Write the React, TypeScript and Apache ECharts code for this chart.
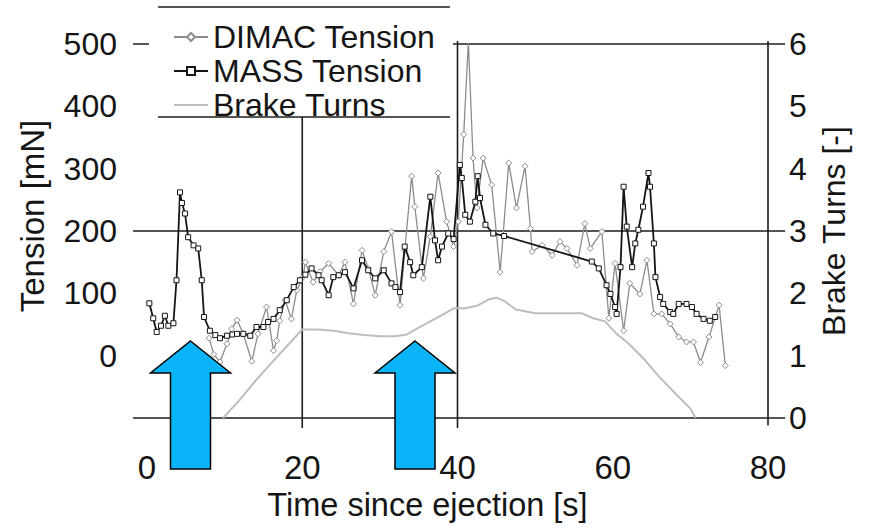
import { useEffect, useRef } from "react";
import * as echarts from "echarts";

// MASS tension samples (time [s], tension [mN])
const massTime = [
  0.3, 0.8, 1.25, 1.8, 2.3, 2.75, 3.4, 3.8, 4.25, 4.5, 4.9, 5.3, 6.0, 6.6, 7.05, 7.35, 8.1, 8.8, 9.4, 10.3,
  11.0, 11.6, 12.4, 13.3, 14.1, 15.0, 15.6, 16.3, 17.1, 18.0, 18.9, 19.7, 20.4, 21.2, 22.1, 22.5, 23.4, 24.0,
  24.7, 25.5, 26.6, 27.7, 28.5, 29.4, 30.5, 31.5, 32.0, 32.6, 33.2, 33.9, 34.3, 35.4, 36.5, 37.1, 37.5, 38.0,
  38.8, 39.5, 40.3, 40.55, 41.0, 41.6, 42.3, 42.6, 42.9, 43.6, 44.6, 46.0, 57.3, 58.2, 59.2, 59.7, 60.3, 60.5,
  61.0, 61.4, 61.8, 62.5, 62.9, 63.3, 63.9, 64.6, 64.8, 65.3, 65.5, 66.1, 66.5, 67.4, 67.8, 68.5, 69.5, 70.2,
  70.8, 71.7, 72.5, 73.2,
];
const massTension = [
  84, 60, 38, 48, 64, 48, 52, 121, 262, 245, 228, 190, 177, 172, 121, 62, 40, 33, 28, 32,
  34, 35, 35, 32, 46, 46, 54, 59, 73, 89, 110, 121, 130, 140, 129, 121, 97, 126,
  129, 134, 108, 153, 137, 124, 137, 116, 110, 102, 175, 150, 129, 142, 255, 185, 153, 175,
  196, 187, 306, 285, 226, 215, 247, 288, 253, 210, 196, 192, 151, 140, 113, 99, 78, 67,
  142, 271, 207, 142, 180, 202, 239, 293, 271, 180, 126, 94, 83, 70, 67, 83, 83, 78,
  67, 59, 56, 62,
];

// DIMAC tension samples (time [s], tension [mN])
const dimacTime = [
  8.0, 8.6, 9.4, 10.3, 10.9, 11.6, 12.4, 13.5, 14.3, 15.4, 16.3, 16.7, 17.1, 17.8, 18.6, 19.3, 20.1, 20.4,
  21.4, 22.3, 23.4, 24.7, 25.5, 26.6, 27.7, 28.5, 29.4, 30.5, 31.5, 32.6, 33.2, 34.1, 34.5, 35.6, 36.5, 37.5,
  38.6, 39.5, 40.1, 40.8, 41.4, 42.0, 42.5, 43.3, 44.4, 45.5, 46.6, 47.6, 48.7, 49.4, 49.6, 50.9, 52.2, 53.2,
  54.1, 55.4, 56.4, 57.1, 58.6, 59.5, 60.3, 61.4, 62.2, 63.5, 64.4, 65.3, 66.3, 67.4, 68.5, 69.5, 70.4, 71.3,
  72.4, 73.7, 74.5,
];
const dimacTension = [
  28, 2, -10, 19, 43, 57, 35, -9, 35, 78, 8, 24, 56, 89, 59, 105, 126, 150,
  118, 135, 148, 129, 150, 83, 169, 140, 97, 167, 199, 81, 169, 288, 239, 124, 191, 293,
  215, 175, 215, 355, 503, 317, 237, 317, 274, 134, 309, 237, 304, 204, 167, 177, 161, 183,
  172, 145, 212, 172, 199, 60, 148, 40, 116, 99, 153, 67, 67, 51, 30, 22, 22, -11,
  30, 81, -16,
];

// Brake turns (time [s], turns [-])
const brakeTime = [
  9.8, 12, 14, 16, 18, 20, 22, 24, 26, 28, 30, 32, 33.5, 35, 36.5, 38, 39.5, 41, 42.5, 44, 45, 46, 47.5,
  50, 56, 57.5, 59, 60.5, 62, 64, 66, 68, 70, 70.7,
];
const brakeTurns = [
  0, 0.3, 0.6, 0.88, 1.15, 1.42, 1.42, 1.4, 1.36, 1.33, 1.31, 1.31, 1.34, 1.45, 1.55, 1.65, 1.76, 1.76, 1.8,
  1.9, 1.93, 1.88, 1.74, 1.68, 1.68, 1.6, 1.55, 1.35, 1.2, 0.95, 0.66, 0.4, 0.15, 0,
];

const seriesNames = ["DIMAC Tension", "MASS Tension", "Brake Turns"];

const FONT = "'Liberation Sans', Arial, sans-serif";
const INK = "#151515";
const BRAKE_GREY = "#bdbdbd";

const zip = (xs: number[], ys: number[]) => xs.map((x, i) => [x, ys[i]]);

// Frame segments in axis units: [t1, turns1, t2, turns2]
const frameSegments: number[][] = [
  [-1.8, 0, 82.2, 0],
  [-1.8, 3, 82.2, 3],
  [-1.8, 6, 82.2, 6],
  [80, 6.05, 80, -0.12],
  [40, 6.05, 40, -0.16],
  [20, 6, 20, -0.16],
];

function arrow(tipX: number, tipY: number, bottomY: number) {
  const headHalf = 40;
  const shaftHalf = 20;
  const headY = tipY + 32;
  return {
    type: "polygon",
    z: 40,
    shape: {
      points: [
        [tipX, tipY],
        [tipX + headHalf, headY],
        [tipX + shaftHalf, headY],
        [tipX + shaftHalf, bottomY],
        [tipX - shaftHalf, bottomY],
        [tipX - shaftHalf, headY],
        [tipX - headHalf, headY],
      ],
    },
    style: { fill: "#0AB4F8", stroke: "#000", lineWidth: 1.5 },
  };
}

export default function App() {
  const ref = useRef<HTMLDivElement>(null);

  useEffect(() => {
    if (!ref.current) return;
    const chart = echarts.init(ref.current, undefined, { renderer: "svg" });

    chart.setOption({
      animation: false,
      backgroundColor: "#fff",
      grid: { left: 147, right: 107, top: 44, bottom: 114 },
      legend: {
        data: [
          seriesNames[0],
          seriesNames[1],
          { name: seriesNames[2], itemStyle: { opacity: 0 } },
        ],
        orient: "vertical",
        left: 168,
        top: 15,
        z: 20,
        itemWidth: 34,
        itemHeight: 10,
        itemGap: 0,
        textStyle: { fontSize: 32, fontFamily: FONT, color: INK, lineHeight: 34 },
      },
      xAxis: {
        type: "value",
        min: 0,
        max: 80,
        interval: 20,
        axisLine: { show: false },
        axisTick: { show: false },
        splitLine: { show: false },
        axisLabel: { fontSize: 33, fontFamily: FONT, color: INK, margin: 33 },
        name: "Time since ejection [s]",
        nameLocation: "middle",
        nameGap: 69,
        nameTextStyle: { fontSize: 32.5, fontFamily: FONT, color: INK, padding: [0, 60, 0, 0] },
      },
      yAxis: [
        {
          type: "value",
          min: -100,
          max: 500,
          interval: 100,
          axisLine: { show: false },
          axisTick: { show: false },
          splitLine: { show: false },
          axisLabel: {
            fontSize: 32,
            fontFamily: FONT,
            color: INK,
            margin: 30,
            formatter: (v: number) => (v < 0 ? "" : String(v)),
          },
          name: "Tension [mN]",
          nameLocation: "middle",
          nameRotate: 90,
          nameGap: 98,
          nameTextStyle: { fontSize: 33, fontFamily: FONT, color: INK, padding: [0, 0, 0, 30] },
        },
        {
          type: "value",
          min: 0,
          max: 6,
          interval: 1,
          axisLine: { show: false },
          axisTick: { show: false },
          splitLine: { show: false },
          axisLabel: { fontSize: 32, fontFamily: FONT, color: INK, margin: 21 },
          name: "Brake Turns [-]",
          nameLocation: "middle",
          nameRotate: 90,
          nameGap: 50,
          nameTextStyle: { fontSize: 32, fontFamily: FONT, color: INK },
        },
      ],
      series: [
        {
          name: seriesNames[0],
          type: "line",
          yAxisIndex: 0,
          data: zip(dimacTime, dimacTension),
          symbol: "diamond",
          symbolSize: 6,
          showAllSymbol: true,
          z: 3,
          lineStyle: { color: "#8c8c8c", width: 1.3 },
          itemStyle: { color: "#fff", borderColor: "#8c8c8c", borderWidth: 1 },
        },
        {
          name: seriesNames[1],
          type: "line",
          yAxisIndex: 0,
          data: zip(massTime, massTension),
          symbol: "rect",
          symbolSize: 5,
          showAllSymbol: true,
          z: 4,
          lineStyle: { color: INK, width: 1.8 },
          itemStyle: { color: "#fff", borderColor: INK, borderWidth: 1 },
        },
        {
          name: seriesNames[2],
          type: "line",
          yAxisIndex: 1,
          data: zip(brakeTime, brakeTurns),
          symbol: "none",
          z: 2,
          lineStyle: { color: BRAKE_GREY, width: 2 },
          itemStyle: { color: BRAKE_GREY },
        },
      ],
    });

    const px = (t: number) => chart.convertToPixel({ xAxisIndex: 0 }, t) as number;
    const py = (v: number) => chart.convertToPixel({ yAxisIndex: 1 }, v) as number;

    const frame = frameSegments.map(([t1, v1, t2, v2]) => ({
      type: "line",
      z: 1,
      shape: { x1: px(t1), y1: py(v1), x2: px(t2), y2: py(v2) },
      style: { stroke: "#1c1c1c", lineWidth: 1.6 },
    }));

    chart.setOption({
      graphic: {
        elements: [
          ...frame,
          // legend panel
          {
            type: "rect",
            z: 10,
            shape: { x: 149, y: 8, width: 304, height: 109 },
            style: { fill: "#fff" },
          },
          {
            type: "line",
            z: 11,
            shape: { x1: 158, y1: 7, x2: 450, y2: 7 },
            style: { stroke: "#1c1c1c", lineWidth: 1.6 },
          },
          {
            type: "line",
            z: 11,
            shape: { x1: 158, y1: 117, x2: 450, y2: 117 },
            style: { stroke: "#1c1c1c", lineWidth: 1.6 },
          },
          arrow(190.5, 341, 469),
          arrow(415, 341, 469),
        ],
      },
    });

    return () => chart.dispose();
  }, []);

  return (
    <div
      ref={ref}
      style={{ position: "absolute", left: 0, top: 0, width: 875, height: 532 }}
    />
  );
}
